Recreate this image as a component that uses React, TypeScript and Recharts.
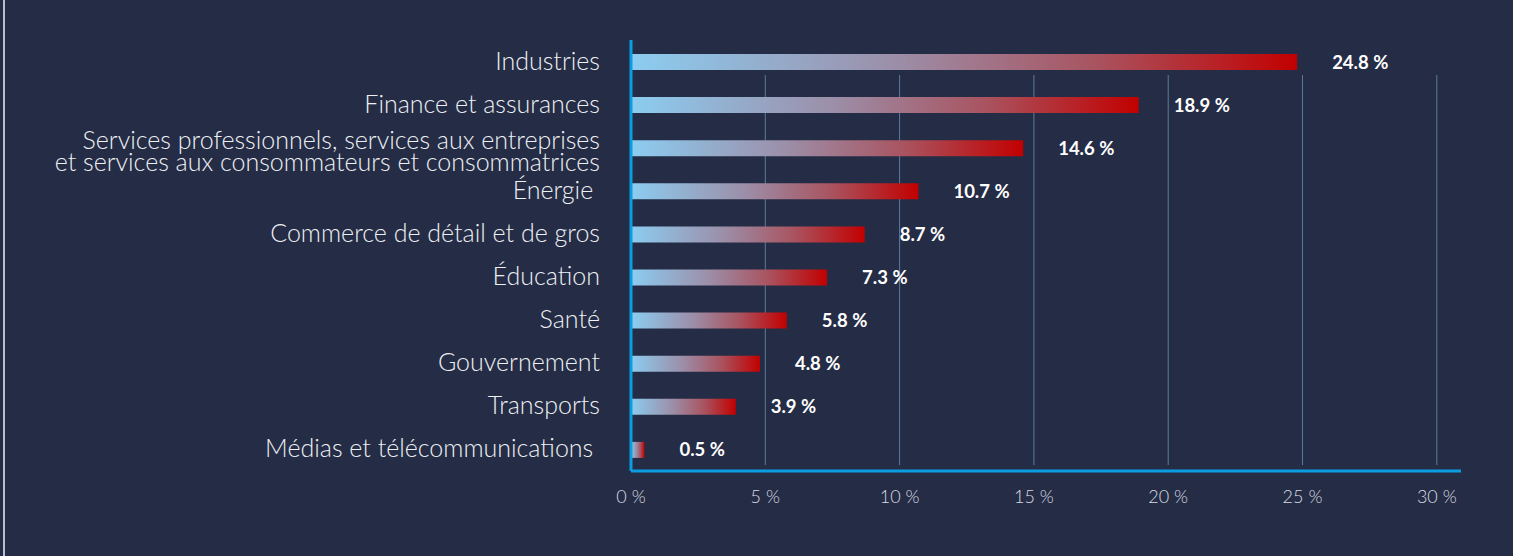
import { BarChart, Bar, XAxis, YAxis, CartesianGrid, LabelList } from "recharts";

const categories = [
  "Industries",
  "Finance et assurances",
  "Services professionnels, services aux entreprises\net services aux consommateurs et consommatrices",
  "Énergie\u00a0",
  "Commerce de détail et de gros",
  "Éducation",
  "Santé",
  "Gouvernement",
  "Transports",
  "Médias et télécommunications\u00a0",
];
const shares = [24.8, 18.9, 14.6, 10.7, 8.7, 7.3, 5.8, 4.8, 3.9, 0.5];
const xTicks = [0, 5, 10, 15, 20, 25, 30];
const xMax = 30.9;

const data = categories.map((name, i) => ({ name, share: shares[i] }));

const font = "Lato, 'Open Sans', sans-serif";

function CategoryTick(props: any) {
  const { x, y, payload } = props;
  const lines = String(payload.value).split("\n");
  const first = lines.length > 1 ? 1 : 8;
  return (
    <text x={x} y={y} textAnchor="end" fill="#eef0f4" fontFamily={font} fontWeight={300} fontSize={25}>
      {lines.map((l, i) => (
        <tspan key={i} x={x} y={y + first + i * 22}>
          {l}
        </tspan>
      ))}
    </text>
  );
}

export default function App() {
  return (
    <div style={{ position: "absolute", left: 0, top: 0, width: 1513, height: 556, background: "#252c45" }}>
      <div style={{ position: "absolute", left: 3, top: 0, width: 2, height: 556, background: "#b8bfd0" }} />
      <BarChart
        width={1513}
        height={556}
        data={data}
        layout="vertical"
        margin={{ top: 40, right: 52, bottom: 0, left: 0 }}
        barCategoryGap={0}
      >
        <defs>
          <linearGradient id="barGrad" x1="0" y1="0" x2="1" y2="0">
            <stop offset="0%" stopColor="#8ccdf1" />
            <stop offset="40%" stopColor="#9c8ea8" />
            <stop offset="70%" stopColor="#a9535f" />
            <stop offset="100%" stopColor="#c20000" />
          </linearGradient>
        </defs>
        <CartesianGrid
          horizontal={false}
          stroke="#5b7c9c"
          strokeWidth={1}
          y={75}
          height={390}
          verticalCoordinatesGenerator={({ offset }: any) =>
            xTicks.slice(1).map((t) => offset.left + (offset.width * t) / xMax)
          }
        />
        <XAxis
          type="number"
          domain={[0, xMax]}
          ticks={xTicks}
          height={85}
          tickFormatter={(v: number) => `${v} %`}
          tickLine={false}
          tickSize={0}
          tickMargin={19}
          axisLine={{ stroke: "#0a9de2", strokeWidth: 3 }}
          tick={{ fill: "#d8dbe3", fontSize: 18, fontFamily: font, fontWeight: 300 }}
          allowDataOverflow
        />
        <YAxis
          type="category"
          dataKey="name"
          width={631}
          tickLine={false}
          tickSize={0}
          tickMargin={31}
          axisLine={{ stroke: "#0a9de2", strokeWidth: 3 }}
          tick={<CategoryTick />}
          interval={0}
        />
        <Bar dataKey="share" barSize={16} fill="url(#barGrad)" isAnimationActive={false}>
          <LabelList
            dataKey="share"
            position="right"
            offset={35}
            formatter={(v: any) => `${Number(v).toFixed(1)} %`}
            fill="#ffffff"
            fontFamily={font}
            fontWeight={700}
            fontSize={18.5}
          />
        </Bar>
      </BarChart>
    </div>
  );
}
